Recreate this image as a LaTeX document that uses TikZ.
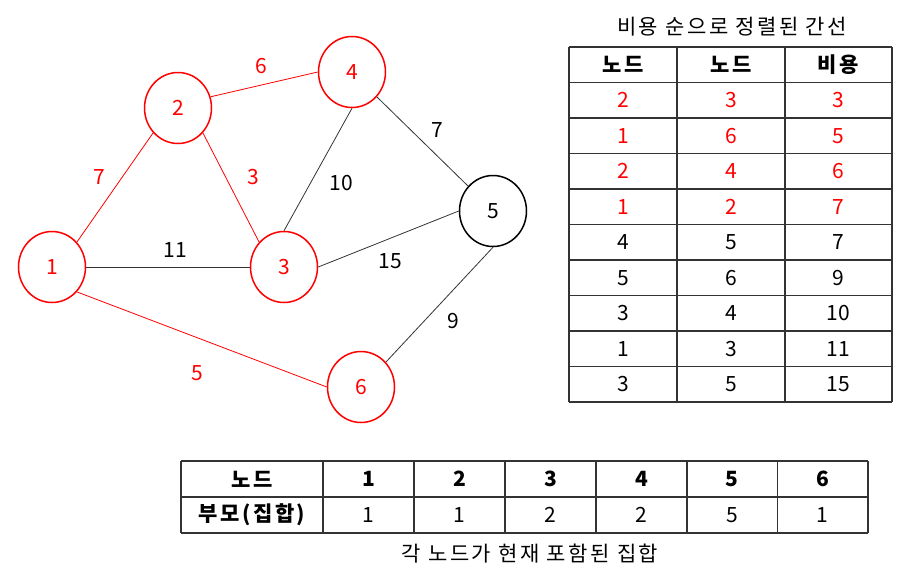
\documentclass[tikz,border=0pt]{standalone}
\usepackage{fontspec}
\setmainfont{Noto Sans CJK KR}
\newfontfamily\kr[LetterSpace=12,WordSpace=1]{Noto Sans CJK KR}
\usetikzlibrary{shapes.geometric}
\definecolor{myred}{RGB}{255,0,0}
\definecolor{tline}{RGB}{51,51,51}
\begin{document}
\begin{tikzpicture}[x=1pt,y=-1pt,
  font=\fontsize{21}{25}\selectfont,
  vert/.style={ellipse, draw=myred, line width=1.5pt, minimum width=67pt, minimum height=71pt, inner sep=0pt, text=myred},
  vertb/.style={vert, draw=black, text=black},
  redge/.style={draw=myred, line width=0.8pt},
  bedge/.style={draw=black!80, line width=0.8pt},
  rlab/.style={text=myred, inner sep=0pt},
  blab/.style={text=black, inner sep=0pt},
  cell/.style={inner sep=0pt, anchor=center},
  hcell/.style={cell, font=\fontsize{21}{25}\selectfont\bfseries},
  tgrid/.style={draw=tline, line width=1.3pt}]
\useasboundingbox (0,0) rectangle (906,579);

% graph nodes
\node[vert]  (n1) at (52,267)  {1};
\node[vert]  (n2) at (178,108) {2};
\node[vert]  (n3) at (284,267) {3};
\node[vert]  (n4) at (352,72)  {4};
\node[vertb] (n5) at (493,211) {5};
\node[vert]  (n6) at (361,387) {6};

% edges
\draw[redge] (n1.45) -- (n2.225);
\draw[redge] (n2.-45) -- (n3.135);
\draw[redge] (n2.19) -- (n4.180);
\draw[redge] (n1.-45) -- (n6.180);
\draw[bedge] (n1.0) -- (n3.180);
\draw[bedge] (n3.90) -- (n4.270);
\draw[bedge] (n4.-45) -- (n5.135);
\draw[bedge] (n3.0) -- (n5.180);
\draw[bedge] (n5.270) -- (n6.45);

% edge labels
\node[rlab] (w24) at (261,66) {6};
\node[rlab] (w12) at (99,177) {7};
\node[rlab] (w23) at (253,177) {3};
\node[blab] (w34) at (341,183) {10};
\node[blab] (w45) at (437,130) {7};
\node[blab] (w13) at (175,250) {11};
\node[blab] (w35) at (390,261) {15};
\node[blab] (w56) at (453,321) {9};
\node[rlab] (w16) at (197,373) {5};

% right table
\node[cell] (ttitle) at (732,27) {\kr 비용 순으로 정렬된 간선};
\foreach \k in {0,...,10}
  \draw[tgrid] (569,{47+35.5*\k}) -- (892,{47+35.5*\k});
\foreach \xx in {569,677,785,892}
  \draw[tgrid] (\xx,47) -- (\xx,402);
\node[hcell] (rh1) at (623,64.75) {\kr 노드};
\node[hcell] (rh2) at (731,64.75) {\kr 노드};
\node[hcell] (rh3) at (838.5,64.75) {\kr 비용};
\foreach \k/\a/\b/\c/\col in {1/2/3/3/myred, 2/1/6/5/myred, 3/2/4/6/myred, 4/1/2/7/myred,
  5/4/5/7/black, 6/5/6/9/black, 7/3/4/10/black, 8/1/3/11/black, 9/3/5/15/black}{
  \node[cell, text=\col] (ra\k) at (623,{64.75+35.5*\k}) {\a};
  \node[cell, text=\col] (rb\k) at (731,{64.75+35.5*\k}) {\b};
  \node[cell, text=\col] (rc\k) at (838.5,{64.75+35.5*\k}) {\c};
}

% bottom table
\foreach \yy in {461,497,533}
  \draw[tgrid] (181,\yy) -- (868,\yy);
\foreach \xx in {181,323,414,505,596,687,777.5,868}
  \draw[tgrid] (\xx,461) -- (\xx,533);
\node[hcell] (bh0) at (252,479) {\kr 노드};
\node[hcell] (bp0) at (252,515) {\kr 부모(집합)};
\foreach \i/\cx/\p in {1/368.5/1, 2/459.5/1, 3/550.5/2, 4/641.5/2, 5/732/5, 6/822.75/1}{
  \node[hcell] (bh\i) at (\cx,479) {\i};
  \node[cell] (bp\i) at (\cx,515) {\p};
}
\node[cell] (bcap) at (530,554) {\kr 각 노드가 현재 포함된 집합};
\end{tikzpicture}
\end{document}
